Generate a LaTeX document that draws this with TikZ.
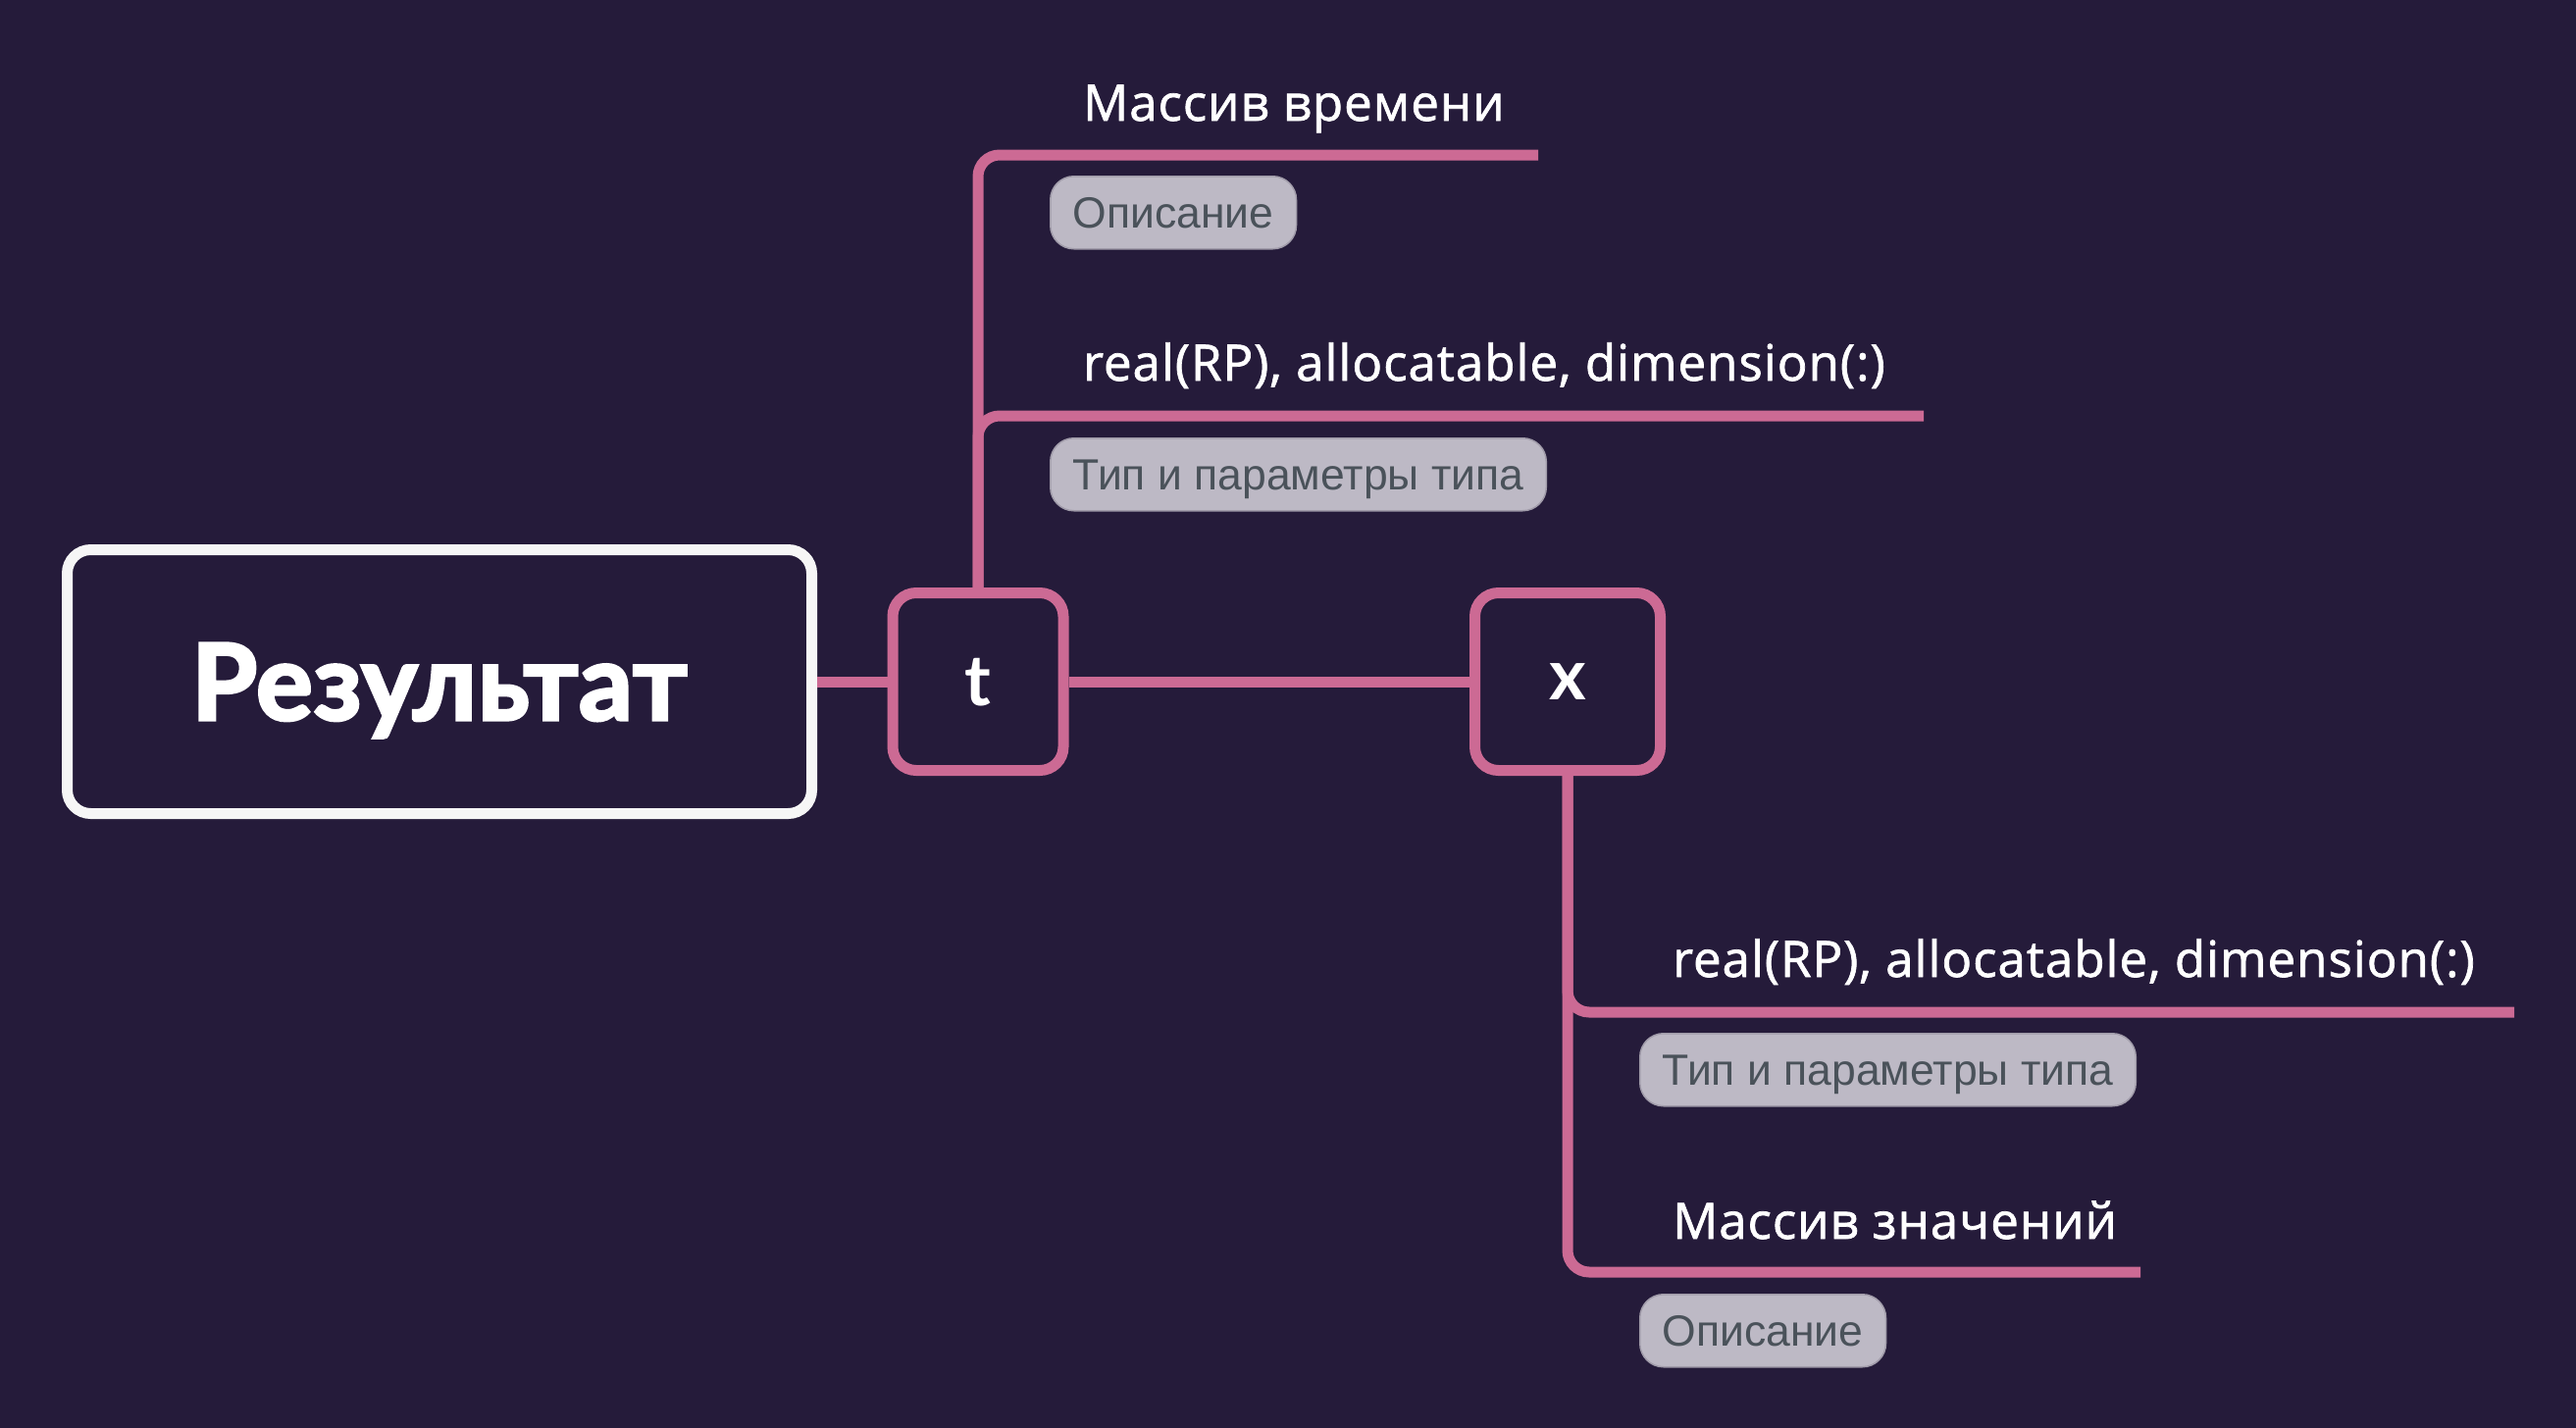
\documentclass[tikz,border=0pt]{standalone}
\usepackage{fontspec}
\setmainfont{Lato}
\newfontfamily\tagfont{Liberation Sans}
\newfontfamily\lblfont[FakeBold=1.4,LetterSpace=2]{Open Sans}
\newfontfamily\heavyfont[FakeBold=3,LetterSpace=1.2]{Lato Bold}
\definecolor{bg}{HTML}{251B3A}
\definecolor{pinkline}{HTML}{CC6A94}
\definecolor{boxwhite}{HTML}{F6F6F6}
\definecolor{tagfill}{HTML}{BDB9C5}
\definecolor{tagedge}{HTML}{A19CAA}
\definecolor{tagtext}{HTML}{4A525A}
\begin{document}
\begin{tikzpicture}[x=1pt,y=-1pt,
  link/.style={draw=pinkline, line width=11pt, rounded corners=22pt},
  mainbox/.style={draw=boxwhite, line width=11pt, fill=bg, rounded corners=24pt,
    minimum width=759pt, minimum height=269pt, text=white, text depth=0pt,
    font=\heavyfont\fontsize{108}{108}\selectfont, inner sep=0pt},
  subbox/.style={draw=pinkline, line width=11pt, fill=bg, rounded corners=24pt,
    minimum height=181pt, text=white, text depth=0pt, inner sep=0pt,
    font=\fontsize{72}{72}\selectfont\bfseries},
  lbl/.style={anchor=base west, inner sep=0pt, text=white,
    font=\lblfont\fontsize{51}{51}\selectfont},
  tagbox/.style={anchor=north west, fill=tagfill, draw=tagedge, line width=1.5pt,
    rounded corners=24pt, text=tagtext, inner xsep=23pt, inner ysep=0pt,
    minimum height=74pt, text depth=0pt,
    font=\tagfont\fontsize{44.5}{44.5}\selectfont}
]
\fill[bg] (0,0) rectangle (2626,1456);
\useasboundingbox (0,0) rectangle (2626,1456);

\node[mainbox] (res) at (448,695) {Результат};
\node[subbox, minimum width=174pt] (t) at (997,695) {t};
\node[subbox, minimum width=189pt] (xx) at (1598,695) {x};

\coordinate (e1) at (1568,158);
\coordinate (e2) at (1961,424);
\coordinate (e3) at (2563,1032);
\coordinate (e4) at (2182,1297);

\draw[link] (res.east) -- (t.west);
\draw[link] (t.east) -- (xx.west);
\draw[link] (t.north) |- (e1);
\draw[link] (t.north) |- (e2);
\draw[link] (xx.south) |- (e3);
\draw[link] (xx.south) |- (e4);

\node[lbl] (l1) at (1104,123) {Массив времени};
\node[lbl] (l2) at (1104,388) {real(RP), allocatable, dimension(:)};
\node[lbl] (l3) at (1705,996) {real(RP), allocatable, dimension(:)};
\node[lbl] (l4) at (1705,1263) {Массив значений};

\node[tagbox] (g1) at (1070,179) {Описание};
\node[tagbox] (g2) at (1070,446) {Тип и параметры типа};
\node[tagbox] (g3) at (1671,1053) {Тип и параметры типа};
\node[tagbox] (g4) at (1671,1319) {Описание};
\end{tikzpicture}
\end{document}
